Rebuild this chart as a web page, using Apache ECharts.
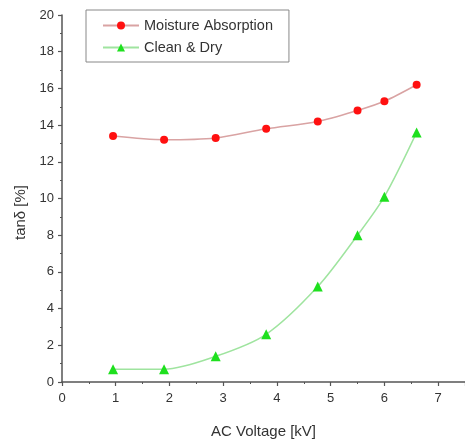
<!DOCTYPE html>
<html><head><meta charset="utf-8">
<script src="https://cdn.jsdelivr.net/npm/echarts@6/dist/echarts.min.js"></script>
<style>html,body{margin:0;padding:0;background:#fff}#c{width:465px;height:441px}</style>
</head><body><div id="c"></div>
<script>
const voltage = [0.95, 1.9, 2.86, 3.8, 4.76, 5.5, 6.0, 6.6];
const moisture = [13.4, 13.2, 13.3, 13.8, 14.2, 14.8, 15.3, 16.2];
const cleanDry = [0.7, 0.7, 1.4, 2.6, 5.2, 8.0, 10.1, 13.6];
const seriesNames = ['Moisture Absorption', 'Clean & Dry'];
const xTicks = [0, 1, 2, 3, 4, 5, 6, 7];
const yTicks = [0, 2, 4, 6, 8, 10, 12, 14, 16, 18, 20];

const font = 'Liberation Sans, Arial, sans-serif';
const axisCommon = {
  axisLine: { lineStyle: { color: '#555', width: 1.5 } },
  axisTick: { inside: false, length: 4, lineStyle: { color: '#555', width: 1.2 } },
  minorTick: { show: true, splitNumber: 2, length: 2, lineStyle: { color: '#555', width: 1 } },
  splitLine: { show: false },
  axisLabel: { color: '#333', fontSize: 13, fontFamily: font, margin: 8 },
  nameTextStyle: { color: '#333', fontSize: 15, fontFamily: font }
};
const chart = echarts.init(document.getElementById('c'));
chart.setOption({
  animation: false,
  backgroundColor: '#fff',
  grid: { left: 62, right: 0, top: 15, bottom: 59, containLabel: false, outerBoundsMode: 'none' },
  legend: {
    orient: 'vertical', left: 86, top: 10,
    padding: [8, 16, 7, 16], itemGap: 7,
    itemWidth: 36, itemHeight: 10,
    borderColor: '#888', borderWidth: 1, backgroundColor: '#fff',
    textStyle: { fontSize: 14.5, fontFamily: font, color: '#333' },
    data: seriesNames
  },
  xAxis: Object.assign({}, axisCommon, {
    type: 'value', min: 0, max: 7.5, interval: 1,
    name: 'AC Voltage [kV]', nameLocation: 'middle', nameGap: 42,
    axisLabel: Object.assign({}, axisCommon.axisLabel, {
      margin: 10,
      formatter: v => xTicks.includes(v) ? String(v) : ''
    })
  }),
  yAxis: Object.assign({}, axisCommon, {
    type: 'value', min: 0, max: 20, interval: 2,
    name: 'tanδ [%]', nameLocation: 'middle', nameGap: 32,
    nameTextStyle: Object.assign({}, axisCommon.nameTextStyle, { padding: [0, 28, 0, 0] }),
    axisLabel: Object.assign({}, axisCommon.axisLabel, {
      formatter: v => yTicks.includes(v) ? String(v) : ''
    })
  }),
  series: [
    {
      name: seriesNames[0], type: 'line', smooth: 0.3,
      data: voltage.map((x, i) => [x, moisture[i]]),
      symbol: 'circle', symbolSize: 8,
      itemStyle: { color: '#ff1010' },
      lineStyle: { color: '#d9a3a3', width: 1.5 }
    },
    {
      name: seriesNames[1], type: 'line', smooth: 0.3,
      data: voltage.map((x, i) => [x, cleanDry[i]]),
      symbol: 'triangle', symbolSize: 10,
      itemStyle: { color: '#1ee01e' },
      lineStyle: { color: '#9fe49f', width: 1.5 }
    }
  ]
});
</script></body></html>
